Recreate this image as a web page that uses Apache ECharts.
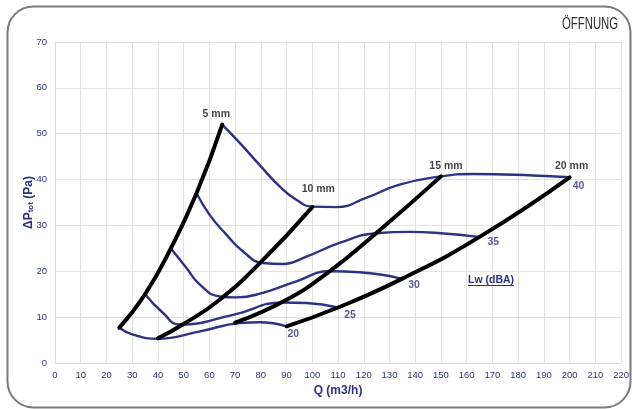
<!DOCTYPE html>
<html><head><meta charset="utf-8">
<script src="https://cdn.jsdelivr.net/npm/echarts@6/dist/echarts.min.js"></script>
<style>html,body{margin:0;padding:0;background:#fff}#c{width:632px;height:409px}</style>
</head><body><div id="c"></div>
<script>
// Opening lines (black): [Q, dP]
const open5  = [[25,7.7],[35,15],[45,25],[55,37],[65,52]];
const open10 = [[40,5.4],[50,8.5],[64,13.8],[80,22],[100,34]];
const open15 = [[70,8.8],[90,13.8],[106.7,20],[124.8,28.3],[150,40.7]];
const open20 = [[90,8],[110,12.1],[135,18.4],[165,27.5],[200,40.5]];
const openNames = ['5 mm','10 mm','15 mm','20 mm'];
// Sound power curves Lw (blue)
const lw20 = [[25,7.7],[30.3,6.2],[39.7,5.3],[56.3,6.9],[71.8,8.7],[79.5,8.9],[89.9,8]];
const lw25 = [[35,15],[42,10.9],[48.5,8.4],[69.2,10.5],[88.6,13.2],[97.7,13.1],[110,12.1]];
const lw30 = [[45,25],[51.1,20.7],[56.3,17.1],[64,14.5],[70.5,14.3],[80.8,15.3],[93.8,17.8],[106.7,20],[118.4,19.8],[134.5,18.4]];
const lw35 = [[55,37],[60.1,32.3],[66.6,28],[73.1,24.3],[80.8,21.8],[88.6,21.6],[97.7,23.2],[110.6,26.2],[124.8,28.3],[137.8,28.6],[150,28.3],[164.5,27.5]];
const lw40 = [[65,52],[71.8,48],[79.5,43.2],[87.3,38.5],[93.8,35.6],[100,34.1],[109.3,34],[120.9,36],[133.9,38.9],[150,40.7],[162.3,41.2],[185.6,40.9],[200,40.5]];
const lwNames = ['20','25','30','35','40'];
const xTicks = {min:0, max:220, step:10};
const yTicks = {min:0, max:70, step:10};

const NAVY = '#2d3282';
const opens = [open5, open10, open15, open20];
const lws = [lw20, lw25, lw30, lw35, lw40];
const openOffsets = [[-6,-10],[6,-18],[5,-10],[2,-11]];
const lwOffsets = [[7,8],[12,8],[13,6],[15,5],[9,9]];

const series = [];
lws.forEach((d,i)=>series.push({type:'line', data:d, smooth:0.5, showSymbol:false, silent:true,
  lineStyle:{color:NAVY, width:2.4}, z:2}));
opens.forEach((d,i)=>series.push({type:'line', data:d, smooth:0.5, showSymbol:false, silent:true,
  lineStyle:{color:'#000', width:4, cap:'round'}, z:3}));
series.push({type:'scatter', symbolSize:0, silent:true, z:5,
  data: opens.map((d,i)=>({value:d[d.length-1], label:{show:true, position:'inside', offset:openOffsets[i],
    formatter:openNames[i], color:'#111', fontWeight:'bold', fontSize:10.5, fontFamily:'Liberation Sans'}}))});
series.push({type:'scatter', symbolSize:0, silent:true, z:5,
  data: lws.map((d,i)=>({value:d[d.length-1], label:{show:true, position:'inside', offset:lwOffsets[i],
    formatter:lwNames[i], color:NAVY, fontWeight:'bold', fontSize:10.5, fontFamily:'Liberation Sans'}}))});

const chart = echarts.init(document.getElementById('c'), null, {renderer:'canvas'});
chart.setOption({
  animation:false,
  backgroundColor:'#fff',
  grid:{left:55, right:10, top:42, bottom:46},
  xAxis:{type:'value', min:xTicks.min, max:xTicks.max, interval:xTicks.step,
    name:'Q (m3/h)', nameLocation:'middle', nameGap:21,
    nameTextStyle:{color:NAVY, fontWeight:'bold', fontSize:12, fontFamily:'Liberation Sans'},
    axisLine:{lineStyle:{color:'#dcdcdc'}}, axisTick:{show:false},
    axisLabel:{color:NAVY, fontSize:9.5, margin:7, fontFamily:'Liberation Sans'},
    splitLine:{lineStyle:{color:'#e2e2e2', width:1}}},
  yAxis:{type:'value', min:yTicks.min, max:yTicks.max, interval:yTicks.step,
    name:'{a|ΔP}{b|tot}{a| (Pa)}', nameLocation:'middle', nameGap:20, nameRotate:90, nameMoveOverlap:false,
    nameTextStyle:{rich:{
      a:{color:NAVY, fontWeight:'bold', fontSize:12, fontFamily:'Liberation Sans', verticalAlign:'bottom', lineHeight:14},
      b:{color:NAVY, fontWeight:'bold', fontSize:8, fontFamily:'Liberation Sans', verticalAlign:'bottom', lineHeight:10}}},
    axisLine:{show:true, lineStyle:{color:'#dcdcdc'}}, axisTick:{show:false},
    axisLabel:{color:NAVY, fontSize:9.5, margin:8, fontFamily:'Liberation Sans'},
    splitLine:{lineStyle:{color:'#e2e2e2', width:1}}},
  graphic:[
    {type:'rect', shape:{x:7.5, y:6.5, width:623, height:401, r:26}, style:{fill:null, stroke:'#7a7a7a', lineWidth:2}, z:0, silent:true},
    {type:'text', x:562, y:17, scaleX:0.71, style:{text:'ÖFFNUNG', fill:'#2a2a2a', font:'16px "Liberation Sans"'}, z:10},
    {type:'text', left:468, top:275, style:{text:'Lw (dBA)', fill:NAVY, font:'bold 10.5px "Liberation Sans"'}, z:10},
    {type:'rect', shape:{x:468, y:285, width:46, height:1}, style:{fill:NAVY}, z:10}
  ],
  series:series
});
</script></body></html>
